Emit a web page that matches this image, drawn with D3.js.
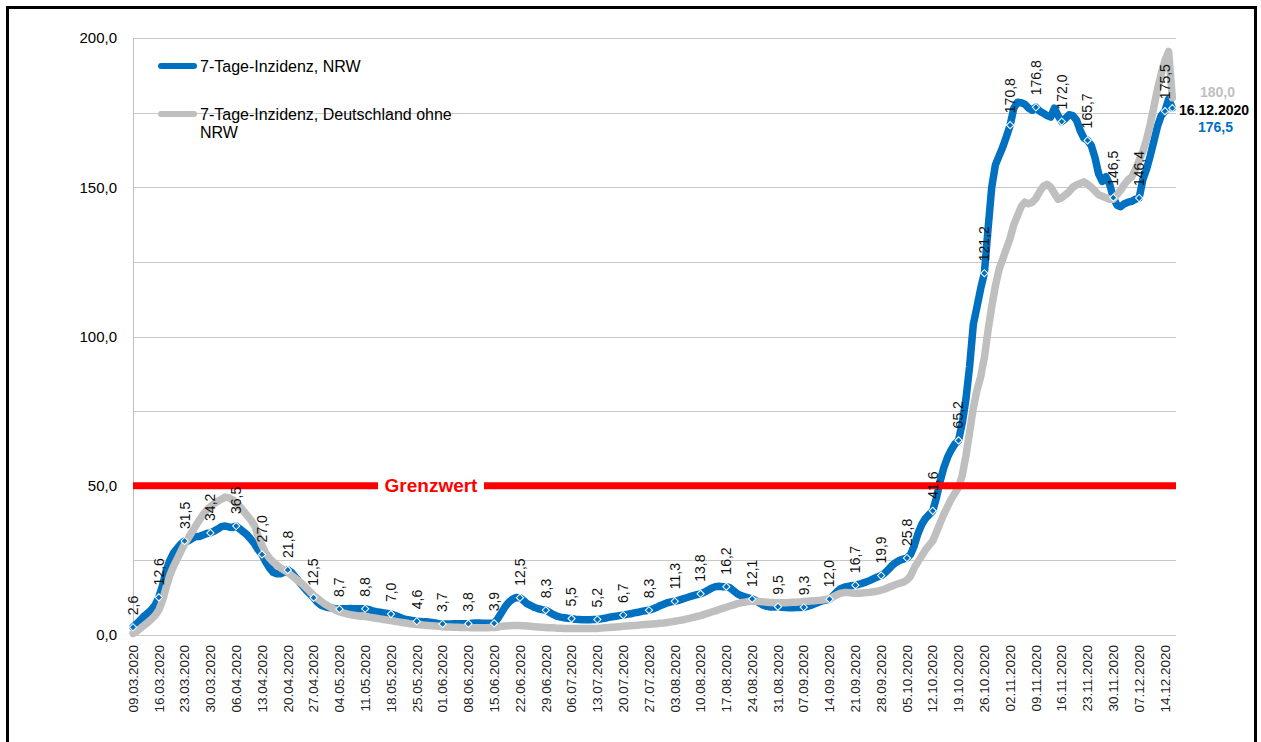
<!DOCTYPE html>
<html>
<head>
<meta charset="utf-8">
<script src="https://cdn.jsdelivr.net/npm/d3@7"></script>
<style>
  html, body { margin: 0; padding: 0; background: #fff; }
  svg { display: block; font-family: "Liberation Sans", Arial, sans-serif; }
</style>
</head>
<body>
<svg id="chart" width="1261" height="742"></svg>
<script>
// ---------- DATA ----------
const startDate = "09.03.2020";
const seriesNames = ["7-Tage-Inzidenz, NRW", "7-Tage-Inzidenz, Deutschland ohne NRW"];

// daily 7-day incidence NRW (09.03.2020 .. 16.12.2020)
const nrw = [
  2.6, 3.8, 5.0, 6.3, 7.3, 8.5, 10.0,
  12.6, 16.5, 21.5, 25.0, 27.5, 29.0, 30.5,
  31.5, 31.5, 32.3, 33.0, 33.0, 33.5, 34.0,
  34.2, 34.8, 35.5, 36.3, 36.5, 36.2, 36.0,
  36.5, 35.5, 34.5, 33.5, 32.0, 30.5, 28.5,
  27.0, 24.5, 22.5, 21.0, 20.5, 20.5, 21.0,
  21.8, 21.0, 19.5, 18.0, 16.5, 15.0, 13.8,
  12.5, 11.0, 10.0, 9.5, 9.2, 9.0, 8.8,
  8.7, 8.8, 8.8, 8.9, 8.8, 8.8, 8.8,
  8.8, 8.5, 8.1, 7.8, 7.6, 7.4, 7.2,
  7.0, 6.6, 6.1, 5.6, 5.2, 5.0, 4.8,
  4.6, 4.5, 4.4, 4.4, 4.2, 4.0, 3.8,
  3.7, 3.7, 3.7, 3.8, 3.8, 3.8, 3.8,
  3.8, 3.9, 4.0, 4.0, 3.9, 3.9, 3.9,
  3.9, 5.5, 7.5, 9.5, 11.0, 12.0, 12.6,
  12.5, 11.5, 10.4, 9.8, 9.2, 8.8, 8.5,
  8.3, 7.6, 6.9, 6.3, 6.0, 5.8, 5.6,
  5.5, 5.3, 5.2, 5.1, 5.1, 5.1, 5.2,
  5.2, 5.4, 5.6, 5.9, 6.1, 6.3, 6.5,
  6.7, 6.9, 7.1, 7.4, 7.6, 7.9, 8.1,
  8.3, 8.7, 9.2, 9.8, 10.3, 10.8, 11.1,
  11.3, 11.6, 12.0, 12.4, 12.8, 13.2, 13.5,
  13.8, 14.3, 15.0, 15.7, 16.2, 16.3, 16.2,
  16.2, 15.8, 14.8, 13.8, 13.2, 12.8, 12.4,
  12.1, 11.5, 10.7, 10.0, 9.6, 9.4, 9.4,
  9.5, 9.3, 9.2, 9.1, 9.1, 9.2, 9.2,
  9.3, 9.6, 10.0, 10.5, 11.0, 11.4, 11.7,
  12.0, 13.2, 14.5, 15.5, 16.0, 16.3, 16.5,
  16.7, 17.0, 17.4, 17.8, 18.3, 18.9, 19.4,
  19.9, 20.8, 22.0, 23.3, 24.3, 25.0, 25.4,
  25.8, 27.0, 30.0, 34.0, 37.0, 39.0, 40.3,
  41.6, 46.0, 51.5, 56.0, 59.5, 62.0, 64.0,
  65.2, 71.0, 79.0, 90.0, 104.0, 110.0, 116.0,
  121.2, 136.0, 150.0, 157.5, 160.5, 163.5, 167.0,
  170.8, 176.5, 178.5, 178.3, 177.8, 176.5, 175.8,
  176.8, 175.5, 174.8, 174.0, 173.5, 176.5, 174.0,
  172.0, 173.0, 174.3, 174.0, 172.5, 169.0, 166.5,
  165.7, 164.0, 160.0, 154.5, 152.0, 153.5, 151.0,
  146.5, 144.0, 143.5, 144.5, 145.0, 145.3, 146.0,
  146.4, 152.5, 156.0, 160.5, 165.5, 170.5, 174.0,
  175.5, 179.5, 176.5
];

// daily 7-day incidence Germany without NRW
const deOhneNrw = [
  0.5, 1.2, 2.2, 3.2, 4.2, 5.3, 6.5,
  8.3, 11.5, 16.0, 20.0, 23.0, 25.5, 28.0,
  30.5, 32.5, 34.5, 36.5, 38.5, 40.3, 41.8,
  43.0, 44.0, 44.8, 45.5, 46.2, 46.0, 45.3,
  44.3, 43.0, 41.5, 40.0, 38.5, 36.5, 33.0,
  30.0, 27.5, 25.8, 24.5, 23.5, 22.5, 21.7,
  21.0, 20.0, 19.0, 18.0, 17.0, 15.8, 14.5,
  13.3, 12.3, 11.3, 10.4, 9.7, 9.0, 8.3,
  7.8, 7.4, 7.1, 6.8, 6.6, 6.4, 6.3,
  6.2, 6.0, 5.8, 5.6, 5.4, 5.2, 5.0,
  4.8, 4.6, 4.4, 4.2, 4.0, 3.8, 3.7,
  3.5, 3.4, 3.3, 3.2, 3.1, 3.0, 2.9,
  2.8, 2.7, 2.7, 2.6, 2.6, 2.5, 2.5,
  2.5, 2.4, 2.4, 2.4, 2.4, 2.4, 2.5,
  2.5, 2.7, 2.9, 3.0, 3.1, 3.2, 3.2,
  3.2, 3.1, 3.0, 2.9, 2.8, 2.7, 2.6,
  2.5, 2.4, 2.4, 2.3, 2.3, 2.2, 2.2,
  2.2, 2.2, 2.2, 2.2, 2.2, 2.2, 2.2,
  2.2, 2.3, 2.4, 2.5, 2.6, 2.7, 2.8,
  2.9, 3.0, 3.1, 3.2, 3.3, 3.4, 3.5,
  3.6, 3.7, 3.8, 3.9, 4.0, 4.2, 4.4,
  4.6, 4.8, 5.0, 5.3, 5.6, 5.9, 6.2,
  6.5, 6.9, 7.3, 7.7, 8.1, 8.5, 8.9,
  9.3, 9.7, 10.1, 10.5, 10.8, 11.0, 11.2,
  11.3, 11.3, 11.2, 11.1, 11.0, 10.9, 10.8,
  10.8, 10.8, 10.8, 10.9, 11.0, 11.0, 11.1,
  11.2, 11.3, 11.4, 11.5, 11.6, 11.7, 11.9,
  12.2, 12.8, 13.5, 14.0, 14.2, 14.2, 14.1,
  14.0, 14.0, 14.1, 14.2, 14.3, 14.5, 14.7,
  15.0, 15.4, 15.9, 16.4, 16.9, 17.3, 17.7,
  18.4, 19.8, 22.5, 24.5, 26.5, 28.5, 30.0,
  31.5, 34.5, 37.5, 40.5, 43.0, 45.5, 47.5,
  49.5, 53.5, 60.0, 68.0, 76.0, 82.0, 86.5,
  93.0, 102.0, 110.0, 117.0, 122.5, 126.0, 129.5,
  133.0, 137.5, 140.5, 143.5, 145.0, 144.5, 145.0,
  146.3, 148.5, 150.3, 151.0, 150.0, 148.0, 146.0,
  146.5, 147.5, 148.5, 150.0, 150.8, 151.3, 151.8,
  151.0, 150.0, 148.8, 147.5, 147.0, 146.5, 146.0,
  146.0, 147.5, 149.0, 151.0, 152.5, 153.5, 156.0,
  159.0, 162.0, 166.0, 171.0, 177.0, 183.0, 188.0,
  192.5, 195.5, 180.0
];

const xTickLabels = ["09.03.2020","16.03.2020","23.03.2020","30.03.2020","06.04.2020","13.04.2020","20.04.2020","27.04.2020","04.05.2020","11.05.2020","18.05.2020","25.05.2020","01.06.2020","08.06.2020","15.06.2020","22.06.2020","29.06.2020","06.07.2020","13.07.2020","20.07.2020","27.07.2020","03.08.2020","10.08.2020","17.08.2020","24.08.2020","31.08.2020","07.09.2020","14.09.2020","21.09.2020","28.09.2020","05.10.2020","12.10.2020","19.10.2020","26.10.2020","02.11.2020","09.11.2020","16.11.2020","23.11.2020","30.11.2020","07.12.2020","14.12.2020"];
const yTickValues = [0, 50, 100, 150, 200];
const yGridValues = [0, 25, 50, 75, 100, 125, 150, 175, 200];
const thresholdValue = 50;
const thresholdLabel = "Grenzwert";
const lastDateLabel = "16.12.2020";

// ---------- CHART ----------
const parse = d3.utcParse("%d.%m.%Y");
const fmt = v => v.toFixed(1).replace(".", ",");
const t0 = parse(startDate);
const dates = nrw.map((_, i) => d3.utcDay.offset(t0, i));

const svg = d3.select("#chart");
const BLUE = "#0070c0", GRAY = "#bfbfbf", RED = "#ff0000";

const x = d3.scaleUtc().domain([t0, d3.utcDay.offset(t0, 283)]).range([133, 1176]);
const y = d3.scaleLinear().domain([0, 200]).range([635, 38]);

svg.append("rect").attr("width", 1261).attr("height", 742).attr("fill", "#fff");
// outer frame
svg.append("rect").attr("x", 7.5).attr("y", 7.5).attr("width", 1248).attr("height", 760)
  .attr("fill", "none").attr("stroke", "#000").attr("stroke-width", 3);

// gridlines
svg.append("g").selectAll("line").data(yGridValues).join("line")
  .attr("x1", x.range()[0]).attr("x2", x.range()[1])
  .attr("y1", d => Math.round(y(d)) + 0.5).attr("y2", d => Math.round(y(d)) + 0.5)
  .attr("stroke", "#c8c8c8").attr("stroke-width", 1);
// y axis line
svg.append("line").attr("x1", 133.5).attr("x2", 133.5).attr("y1", y(200)).attr("y2", y(0))
  .attr("stroke", "#bfbfbf").attr("stroke-width", 1);

// y tick labels
svg.append("g").selectAll("text").data(yTickValues).join("text")
  .attr("x", 117).attr("y", d => y(d)).attr("dy", "0.35em")
  .attr("text-anchor", "end").attr("font-size", 15).attr("fill", "#000")
  .text(d => fmt(d));

// x tick labels
svg.append("g").selectAll("text").data(xTickLabels).join("text")
  .attr("transform", d => `translate(${x(parse(d))},645) rotate(-90)`)
  .attr("dy", "0.35em").attr("text-anchor", "end")
  .attr("font-size", 13.5).attr("fill", "#222")
  .text(d => d);

// lines
const line = d3.line().x((d, i) => x(dates[i])).y(d => y(d));
svg.append("path").datum(nrw).attr("d", line)
  .attr("fill", "none").attr("stroke", BLUE).attr("stroke-width", 7.5)
  .attr("stroke-linejoin", "round").attr("stroke-linecap", "round");
svg.append("path").datum(deOhneNrw).attr("d", line)
  .attr("fill", "none").attr("stroke", GRAY).attr("stroke-width", 7.5)
  .attr("stroke-linejoin", "round").attr("stroke-linecap", "round");

// threshold line
svg.append("line").attr("x1", x.range()[0]).attr("x2", x.range()[1])
  .attr("y1", y(thresholdValue)).attr("y2", y(thresholdValue))
  .attr("stroke", RED).attr("stroke-width", 7);
svg.append("rect").attr("x", 378).attr("y", y(thresholdValue) - 10).attr("width", 106).attr("height", 20)
  .attr("fill", "#fff");
svg.append("text").attr("x", 431).attr("y", y(thresholdValue)).attr("dy", "0.35em")
  .attr("text-anchor", "middle").attr("font-size", 19).attr("font-weight", "bold")
  .attr("fill", RED).text(thresholdLabel);

// markers + labels for NRW (weekly + last)
const markIdx = nrw.map((_, i) => i).filter(i => i % 7 === 0 || i === nrw.length - 1);
const sym = d3.symbol().type(d3.symbolSquare).size(26);
svg.append("g").selectAll("path").data(markIdx).join("path")
  .attr("d", sym)
  .attr("transform", i => `translate(${x(dates[i])},${y(nrw[i])}) rotate(45)`)
  .attr("fill", BLUE).attr("stroke", "#fff").attr("stroke-width", 1);

const labIdx = markIdx.filter(i => i % 7 === 0);
svg.append("g").selectAll("text").data(labIdx).join("text")
  .attr("transform", i => `translate(${x(dates[i])},${y(nrw[i]) - 12}) rotate(-90)`)
  .attr("dy", "0.35em").attr("text-anchor", "start")
  .attr("font-size", 14).attr("fill", "#111")
  .text(i => fmt(nrw[i]));

// end labels
const last = nrw.length - 1;
svg.append("text").attr("x", 1200).attr("y", 92).attr("dy", "0.35em")
  .attr("font-size", 14).attr("font-weight", "bold").attr("fill", GRAY)
  .text(fmt(deOhneNrw[last]));
svg.append("text").attr("x", 1179).attr("y", 110).attr("dy", "0.35em")
  .attr("font-size", 14).attr("font-weight", "bold").attr("fill", "#000")
  .text(lastDateLabel);
svg.append("text").attr("x", 1198).attr("y", 127).attr("dy", "0.35em")
  .attr("font-size", 14).attr("font-weight", "bold").attr("fill", BLUE)
  .text(fmt(nrw[last]));

// legend
const lg = svg.append("g");
lg.append("line").attr("x1", 161).attr("x2", 194).attr("y1", 66).attr("y2", 66)
  .attr("stroke", BLUE).attr("stroke-width", 6).attr("stroke-linecap", "round");
lg.append("text").attr("x", 200).attr("y", 66).attr("dy", "0.35em").attr("font-size", 16)
  .attr("fill", "#000").text(seriesNames[0]);
lg.append("line").attr("x1", 161).attr("x2", 194).attr("y1", 114).attr("y2", 114)
  .attr("stroke", GRAY).attr("stroke-width", 6).attr("stroke-linecap", "round");
const words = seriesNames[1].split(" ");
lg.append("text").attr("x", 200).attr("y", 114).attr("dy", "0.35em").attr("font-size", 16)
  .attr("fill", "#000").text(words.slice(0, -1).join(" "));
lg.append("text").attr("x", 200).attr("y", 132).attr("dy", "0.35em").attr("font-size", 16)
  .attr("fill", "#000").text(words[words.length - 1]);
</script>
</body>
</html>
